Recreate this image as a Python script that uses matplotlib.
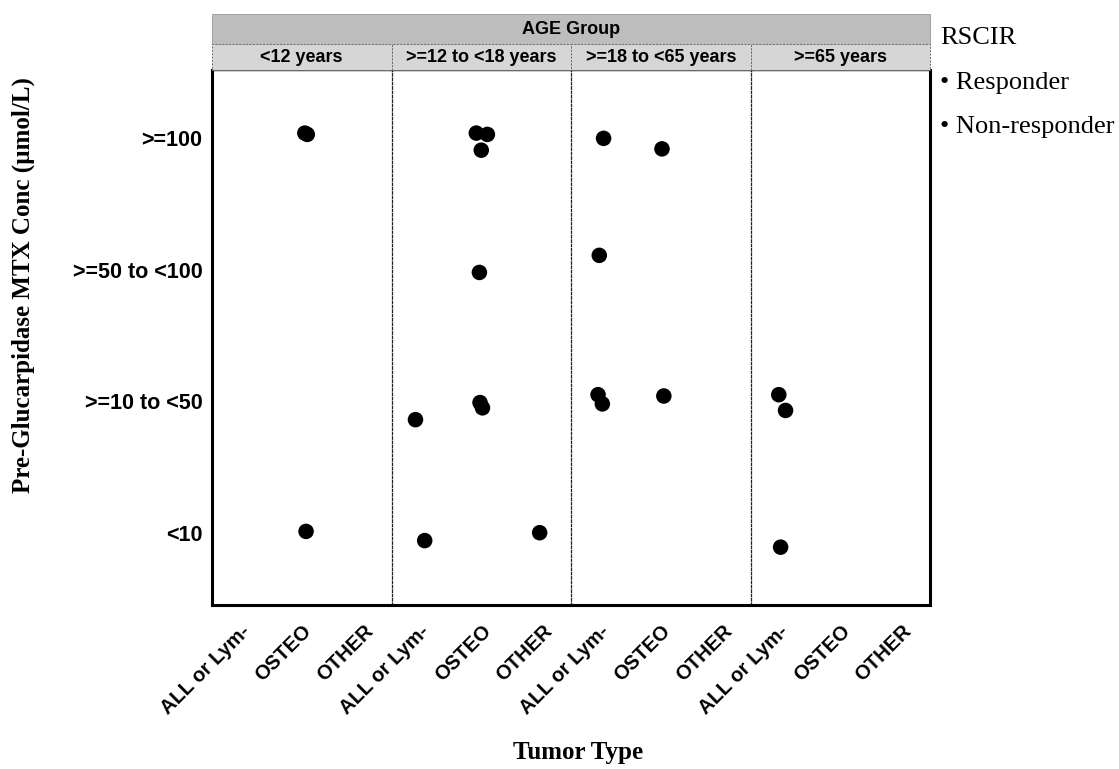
import matplotlib

matplotlib.use("Agg")
import matplotlib.pyplot as plt
from matplotlib.patches import Rectangle

W, H = 1119, 769

age_groups = ["<12 years", ">=12 to <18 years", ">=18 to <65 years", ">=65 years"]
tumor_types = ["ALL or Lym-", "OSTEO", "OTHER"]
conc_levels = ["<10", ">=10 to <50", ">=50 to <100", ">=100"]

# jittered positions, one list per age group panel
# x = tumor type index, y = concentration category index
panel_x = [
    [1.05, 1.09, 1.07],
    [0.92, 1.10, 1.00, 0.97, 0.98, 1.02, -0.07, 0.08, 1.95],
    [0.07, 1.02, 0.00, -0.02, 0.05, 1.05],
    [0.00, 0.11, 0.03],
]
panel_y = [
    [3.04, 3.03, 0.01],
    [3.04, 3.03, 2.91, 1.98, 0.99, 0.95, 0.86, -0.06, 0.00],
    [3.00, 2.92, 2.11, 1.05, 0.98, 1.04],
    [1.05, 0.93, -0.11],
]

SANS = "Liberation Sans"
SERIF = "Liberation Serif"


def fx(px):
    return px / W


def fy(py):
    return 1 - py / H


fig = plt.figure(figsize=(W / 100, H / 100), dpi=100)

left, right = 212, 930
top, bottom = 70, 605
edges = [left + i * (right - left) / 4 for i in range(5)]

axes = []
for i in range(4):
    ax = fig.add_axes([fx(edges[i]), fy(bottom), fx(edges[i + 1] - edges[i]), (bottom - top) / H])
    ax.patch.set_visible(False)
    ax.scatter(panel_x[i], panel_y[i], s=125, color="black", edgecolors="none", zorder=3)
    ax.set_xlim(-0.46, 2.46)
    ax.set_ylim(-0.55, 3.52)
    ax.set_xticks(range(len(tumor_types)))
    ax.set_xticklabels(tumor_types, rotation=45, ha="right", rotation_mode="anchor",
                       fontfamily=SANS, fontweight="bold", fontsize=14.5)
    ax.tick_params(axis="x", length=0, pad=12)
    ax.set_yticks(range(len(conc_levels)))
    if i == 0:
        ax.set_yticklabels(conc_levels, fontfamily=SANS, fontweight="bold", fontsize=15.5)
        ax.tick_params(axis="y", length=0, pad=7)
    else:
        ax.tick_params(axis="y", length=0, labelleft=False)
    ax.spines["bottom"].set_linewidth(2.2)
    ax.spines["top"].set_linewidth(1.0)
    ax.spines["left"].set_visible(i == 0)
    ax.spines["left"].set_linewidth(2.2)
    if i < 3:
        ax.spines["right"].set_linewidth(0.9)
        ax.spines["right"].set_linestyle((0, (2, 1.5)))
        ax.spines["right"].set_color("#222222")
    else:
        ax.spines["right"].set_linewidth(2.2)
    axes.append(ax)

# facet strips
fig.patches.append(Rectangle((fx(left), fy(44)), fx(right - left), (44 - 14) / H,
                             transform=fig.transFigure, facecolor="#bdbdbd",
                             edgecolor="#9a9a9a", linewidth=0.6))
fig.text(fx((left + right) / 2), fy(29), "AGE Group", ha="center", va="center",
         fontfamily=SANS, fontweight="bold", fontsize=13)
for i, label in enumerate(age_groups):
    fig.patches.append(Rectangle((fx(edges[i]), fy(top)), fx(edges[i + 1] - edges[i]), (top - 44) / H,
                                 transform=fig.transFigure, facecolor="#d6d6d6",
                                 edgecolor="#6a6a6a", linewidth=0.7, linestyle=(0, (2, 1.5))))
    fig.text(fx((edges[i] + edges[i + 1]) / 2), fy(57), label, ha="center", va="center",
             fontfamily=SANS, fontweight="bold", fontsize=13)

# axis titles
fig.text(fx(23), fy(285), "Pre-Glucarpidase MTX Conc (\u00b5mol/L)", rotation=90,
         ha="center", va="center", fontfamily=SERIF, fontweight="bold", fontsize=18)
fig.text(fx(578), fy(752), "Tumor Type", ha="center", va="center",
         fontfamily=SERIF, fontweight="bold", fontsize=18)

# legend
fig.text(fx(940), fy(38), "RSCIR", ha="left", va="center", fontfamily=SERIF, fontsize=19)
fig.text(fx(940), fy(83), "\u2022 Responder", ha="left", va="center", fontfamily=SERIF, fontsize=19)
fig.text(fx(940), fy(127), "\u2022 Non-responder", ha="left", va="center", fontfamily=SERIF, fontsize=19)

fig.savefig("out.png", dpi=100)
